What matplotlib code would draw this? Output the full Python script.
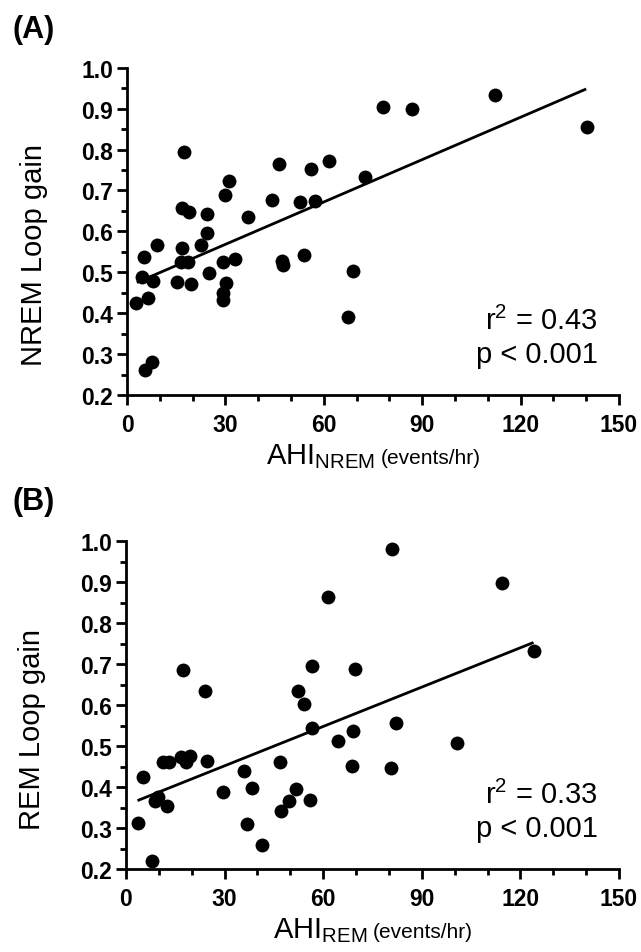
import matplotlib
matplotlib.use("Agg")
import matplotlib.pyplot as plt
from matplotlib.ticker import MultipleLocator
from matplotlib.offsetbox import TextArea, HPacker, AnchoredOffsetbox

plt.rcParams['font.family'] = ['Liberation Sans', 'DejaVu Sans']
plt.rcParams['mathtext.default'] = 'regular'

# Panel A: NREM
ahi_nrem = [2.7, 4.5, 5.3, 5.5, 6.5, 7.7, 7.8, 9.2, 15.3, 16.5, 16.7, 16.7, 17.5,
            18.7, 19.0, 19.4, 22.6, 24.3, 24.5, 25.1, 29.2, 29.4, 29.4, 29.9, 30.1,
            31.0, 32.9, 36.8, 44.3, 46.3, 47.2, 47.7, 52.7, 54.1, 56.0, 57.3, 61.5,
            67.5, 69.0, 72.6, 77.9, 87.0, 112.2, 140.1]
lg_nrem = [0.426, 0.489, 0.537, 0.261, 0.437, 0.280, 0.479, 0.566, 0.477, 0.526,
           0.559, 0.658, 0.793, 0.526, 0.648, 0.471, 0.566, 0.595, 0.643, 0.497,
           0.432, 0.450, 0.525, 0.688, 0.473, 0.723, 0.532, 0.635, 0.676, 0.765,
           0.528, 0.517, 0.671, 0.541, 0.753, 0.674, 0.772, 0.391, 0.503, 0.733,
           0.903, 0.900, 0.933, 0.854]
fit_nrem_x = [3, 140]
fit_nrem_y = [0.475, 0.948]

# Panel B: REM
ahi_rem = [3.6, 5.3, 7.8, 8.8, 9.8, 11.2, 12.4, 13.2, 16.6, 17.4, 18.3, 19.5, 24.0,
           24.6, 29.6, 35.9, 36.7, 38.4, 41.3, 46.9, 47.2, 49.6, 51.7, 52.2, 54.2,
           56.0, 56.7, 56.7, 61.5, 64.6, 68.7, 69.2, 69.7, 80.6, 80.8, 82.0, 100.8,
           114.5, 124.2]
lg_rem = [0.312, 0.425, 0.220, 0.367, 0.375, 0.460, 0.353, 0.460, 0.473, 0.686,
          0.460, 0.477, 0.634, 0.464, 0.387, 0.440, 0.310, 0.397, 0.259, 0.460,
          0.341, 0.367, 0.395, 0.634, 0.603, 0.369, 0.696, 0.544, 0.865, 0.512,
          0.452, 0.538, 0.688, 0.447, 0.981, 0.556, 0.508, 0.898, 0.733]
fit_rem_x = [3.5, 124]
fit_rem_y = [0.367, 0.753]

panels = [
    dict(rect=[127/641, 1-396/953, 492/641, 327.3/953], x=ahi_nrem, y=lg_nrem,
         fx=fit_nrem_x, fy=fit_nrem_y, sub='NREM', ylabel='NREM Loop gain',
         stats=['r$^2$ = 0.43', 'p < 0.001'], tag='(A)', tag_y=1-30/953),
    dict(rect=[126/641, 1-870/953, 493/641, 327.7/953], x=ahi_rem, y=lg_rem,
         fx=fit_rem_x, fy=fit_rem_y, sub='REM', ylabel='REM Loop gain',
         stats=['r$^2$ = 0.33', 'p < 0.001'], tag='(B)', tag_y=1-502/953),
]

fig = plt.figure(figsize=(6.41, 9.53), dpi=100)

for p in panels:
    ax = fig.add_axes(p['rect'])
    ax.scatter(p['x'], p['y'], s=100, color='black', zorder=3, clip_on=False,
               linewidths=0)
    ax.plot(p['fx'], p['fy'], color='black', lw=2.0, solid_capstyle='butt')
    ax.set_xlim(0, 150)
    ax.set_ylim(0.2, 1.0)
    ax.xaxis.set_major_locator(MultipleLocator(30))
    ax.xaxis.set_minor_locator(MultipleLocator(10))
    ax.yaxis.set_major_locator(MultipleLocator(0.1))
    ax.yaxis.set_minor_locator(MultipleLocator(0.05))
    ax.set_yticklabels([f'{v:.1f}' for v in ax.get_yticks()])
    for s in ['top', 'right']:
        ax.spines[s].set_visible(False)
    for s in ['left', 'bottom']:
        ax.spines[s].set_linewidth(2.0)
    ax.tick_params(which='major', length=7, width=2.0, labelsize=16.5)
    ax.tick_params(which='minor', length=4, width=2.0)
    ax.tick_params(axis='x', pad=6)
    ax.tick_params(axis='y', pad=3)
    for lab in ax.get_xticklabels() + ax.get_yticklabels():
        lab.set_fontweight('bold')

    ax.set_ylabel(p['ylabel'], fontsize=21, va='center')
    ax.yaxis.set_label_coords(-0.19, 0.43)

    # x label with subscript and smaller units
    t1 = TextArea('AHI$_{' + p['sub'] + '}$', textprops=dict(fontsize=21))
    t2 = TextArea('(events/hr)', textprops=dict(fontsize=15))
    box = HPacker(children=[t1, t2], align='baseline', pad=0, sep=4)
    anch = AnchoredOffsetbox(loc='upper center', child=box, pad=0, borderpad=0,
                             frameon=False, bbox_to_anchor=(0.5, -0.14),
                             bbox_transform=ax.transAxes)
    ax.add_artist(anch)

    ax.text(0.957, 0.202, p['stats'][0], transform=ax.transAxes, ha='right',
            va='baseline', fontsize=21)
    ax.text(0.957, 0.100, p['stats'][1], transform=ax.transAxes, ha='right',
            va='baseline', fontsize=21)

    fig.text(12/641, p['tag_y'], p['tag'], fontsize=22, fontweight='bold',
             va='center', ha='left')

fig.savefig('out.png', dpi=100)
